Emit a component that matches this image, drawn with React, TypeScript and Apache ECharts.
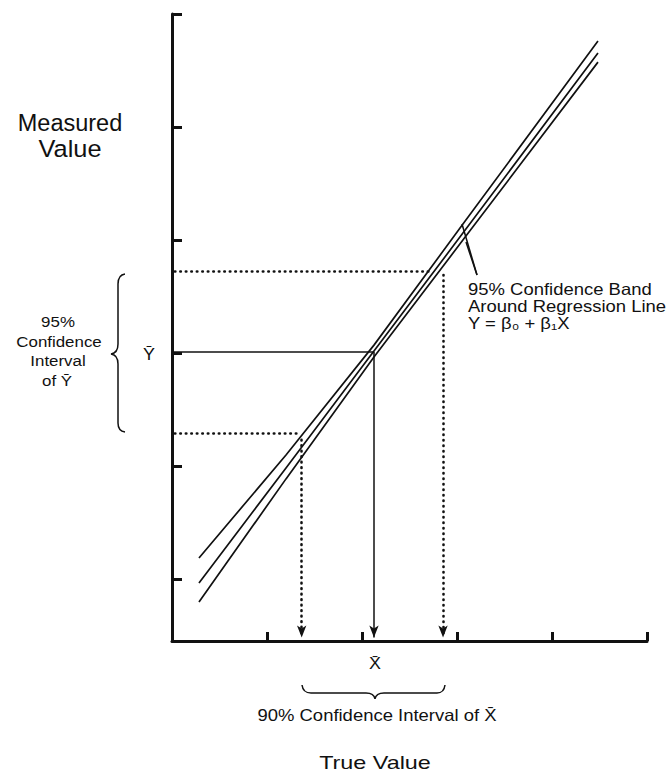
import React, { useEffect, useRef } from "react";
import * as echarts from "echarts";

// ---- data (axis units) ----
const xTicks = [1, 2, 3, 4, 5];
const yTicks = [0.55, 1.55, 2.55, 3.55, 4.55, 5.55];

const xBand = [0.284, 1.2, 2.126, 3.084, 4.484];
const yUpper = [0.735, 1.647, 2.619, 3.715, 5.31];
const yMid = [0.513, 1.532, 2.566, 3.635, 5.204];
const yLower = [0.345, 1.435, 2.513, 3.573, 5.124];

const yBar = 2.56;
const xBar = 2.126;
const yCiHigh = 3.274;
const yCiLow = 1.841;
const xCiLow = 1.365;
const xCiHigh = 2.853;
const xHitHigh = 2.737; // where upper dotted line meets the band
const xHitLow = 1.33;
const yDropHigh = 3.24; // where vertical dotted lines leave the band
const yDropLow = 1.78;

const FONT = '"Liberation Sans", Arial, sans-serif';

function zip(xs: number[], ys: number[]) {
  return xs.map((x, i) => [x, ys[i]]);
}

const braceLeft =
  "M 125 274 Q 118 275 118 284 L 118 344 Q 118 353 111 354 Q 118 355 118 364 L 118 423 Q 118 431 125 432";
const braceBottom =
  "M 302 685 Q 303 693 311 693 L 366 693 Q 374 693 375 699 Q 376 693 384 693 L 437 693 Q 444 693 445 685";

let registered = false;
function registerShapes() {
  if (registered) return;
  registered = true;
  echarts.graphic.registerShape("braceLeft", echarts.graphic.extendPath(braceLeft, {}) as any);
  echarts.graphic.registerShape("braceBottom", echarts.graphic.extendPath(braceBottom, {}) as any);
}

function txt(text: string, x: number, y: number, size: number, align = "center", scaleX = 1.12, extra: any = {}) {
  return {
    type: "text",
    x,
    y,
    scaleX,
    style: {
      text,
      fontFamily: FONT,
      fontSize: size,
      fill: "#111",
      textAlign: align,
      align,
      textVerticalAlign: "middle",
      verticalAlign: "middle",
      ...extra,
    },
  };
}

export default function App() {
  const ref = useRef<HTMLDivElement>(null);
  useEffect(() => {
    if (!ref.current) return;
    registerShapes();
    const chart = echarts.init(ref.current, undefined, { renderer: "svg" });

    const bandStyle = { color: "#111", width: 1.7 };
    const dotted = { color: "#111", width: 2.6, type: [0.5, 5], cap: "round" };
    const solid = { color: "#111", width: 1.5, type: "solid" };
    const arrow = { symbol: "arrow", symbolSize: [7, 12] };
    const none = { symbol: "none" };

    chart.setOption({
      animation: false,
      backgroundColor: "#fff",
      grid: { left: 172, top: 14, right: 23, bottom: 133 },
      xAxis: {
        type: "value",
        min: 0,
        max: 5,
        axisLine: { show: true, lineStyle: { color: "#111", width: 3 } },
        axisTick: {
          show: true,
          inside: true,
          length: 9,
          customValues: xTicks,
          lineStyle: { color: "#111", width: 3 },
        },
        axisLabel: { show: false },
        splitLine: { show: false },
      },
      yAxis: {
        type: "value",
        min: 0,
        max: 5.55,
        axisLine: { show: true, lineStyle: { color: "#111", width: 3 } },
        axisTick: {
          show: true,
          inside: true,
          length: 10,
          customValues: yTicks,
          lineStyle: { color: "#111", width: 3 },
        },
        axisLabel: { show: false },
        splitLine: { show: false },
      },
      series: [
        { type: "line", data: zip(xBand, yUpper), showSymbol: false, symbol: "none", lineStyle: bandStyle },
        { type: "line", data: zip(xBand, yMid), showSymbol: false, symbol: "none", lineStyle: bandStyle },
        { type: "line", data: zip(xBand, yLower), showSymbol: false, symbol: "none", lineStyle: bandStyle },
        {
          type: "line",
          data: [],
          markLine: {
            silent: true,
            label: { show: false },
            lineStyle: dotted,
            data: [
              [{ coord: [0.03, yCiHigh], ...none }, { coord: [xHitHigh, yCiHigh], ...none }],
              [{ coord: [0.03, yCiLow], ...none }, { coord: [xHitLow, yCiLow], ...none }],
              [{ coord: [xCiHigh, yDropHigh], ...none }, { coord: [xCiHigh, 0.03], ...arrow }],
              [{ coord: [xCiLow, yDropLow], ...none }, { coord: [xCiLow, 0.03], ...arrow }],
            ],
          },
        },
        {
          type: "line",
          data: [],
          markLine: {
            silent: true,
            label: { show: false },
            lineStyle: solid,
            data: [
              [{ coord: [0.02, yBar], ...none }, { coord: [xBar, yBar], ...none }],
              [{ coord: [xBar, yBar], ...none }, { coord: [xBar, 0.03], ...arrow }],
            ],
          },
        },
      ],
      graphic: [
        txt("Measured", 70, 123, 23.5, "center", 1.0),
        txt("Value", 70, 149, 23.5, "center", 1.08),
        txt("95%", 58, 321, 15.5, "center", 1.09),
        txt("Confidence", 59, 341, 15.5, "center", 1.09),
        txt("Interval", 58, 360, 15.5, "center", 1.09),
        txt("of Ȳ", 57, 380, 15.5, "center", 1.09),
        txt("Ȳ", 149, 355, 16),
        { type: "braceLeft", style: { stroke: "#111", fill: "none", lineWidth: 1.5 } },
        txt("X\u0304", 375, 664, 16),
        { type: "braceBottom", style: { stroke: "#111", fill: "none", lineWidth: 1.5 } },
        txt("90% Confidence Interval of X\u0304", 377, 715, 16.5, "center", 1.12),
        txt("True Value", 375, 763, 19, "center", 1.23),
        txt("95% Confidence Band", 468, 289, 16.5, "left"),
        txt("Around Regression Line", 468, 306, 16.5, "left"),
        txt("Y = β₀ + β₁X", 468, 323, 16.5, "left"),
        { type: "line", shape: { x1: 462, y1: 224, x2: 477, y2: 275 }, style: { stroke: "#111", lineWidth: 1.5 } },
        { type: "line", shape: { x1: 466, y1: 242, x2: 477, y2: 275 }, style: { stroke: "#111", lineWidth: 1.5 } },
      ],
    });
    return () => chart.dispose();
  }, []);
  return (
    <div
      ref={ref}
      style={{ position: "fixed", left: 0, top: 0, width: 670, height: 774, background: "#fff" }}
    />
  );
}
